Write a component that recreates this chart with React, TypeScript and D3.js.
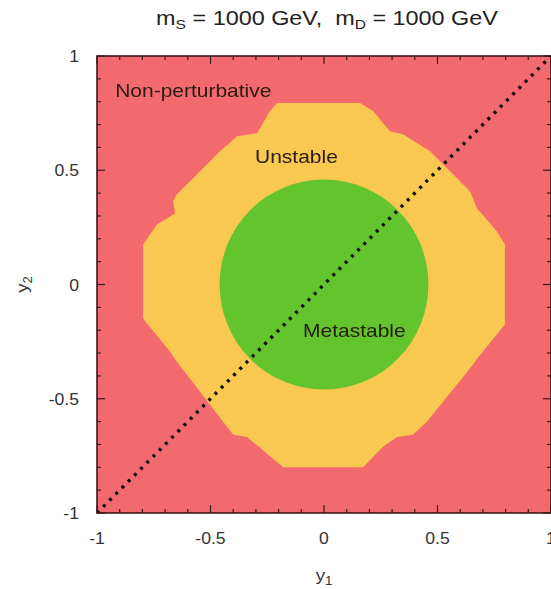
import React from "react";
import * as d3 from "d3";

// Stability-region boundaries in the (y1, y2) coupling plane
const unstableY1 = [
  -0.207, 0.159, 0.216, 0.291, 0.348, 0.467, 0.586, 0.643, 0.656, 0.674, 0.762, 0.797,
  0.797, 0.674, 0.656, 0.454, 0.392, 0.322, 0.26, 0.172,
  -0.18, -0.339, -0.4, -0.445, -0.648, -0.678, -0.797,
  -0.797, -0.736, -0.656, -0.665, -0.648, -0.559, -0.458, -0.383, -0.295, -0.269, -0.238,
];
const unstableY2 = [
  0.794, 0.794, 0.759, 0.671, 0.658, 0.583, 0.465, 0.408, 0.377, 0.333, 0.232, 0.175,
  -0.175, -0.325, -0.351, -0.6, -0.658, -0.667, -0.71, -0.8,
  -0.8, -0.667, -0.658, -0.6, -0.338, -0.294, -0.149,
  0.175, 0.263, 0.311, 0.364, 0.395, 0.482, 0.583, 0.649, 0.662, 0.706, 0.759,
];
const metastableCenter = [0, 0.0];
const metastableRadius = 0.46;

const diagonalY1 = [-1, 1];
const diagonalY2 = [-1, 1];

const majorTicks = [-1, -0.5, 0, 0.5, 1];
const tickLabels = ["-1", "-0.5", "0", "0.5", "1"];
const minorTicks = d3.range(-10, 11).map((i) => i / 10);

const regionLabels = [
  { text: "Non-perturbative", y1: -0.92, y2: 0.82 },
  { text: "Unstable", y1: -0.304, y2: 0.532 },
  { text: "Metastable", y1: -0.0925, y2: -0.23 },
];

const RED = "#f26b6e";
const YELLOW = "#f9c851";
const GREEN = "#63c42e";
const FONT = "'Liberation Sans', Arial, Helvetica, sans-serif";
// glyphs are drawn slightly wide
const SX = 1.2;

export default function App() {
  const W = 551;
  const H = 589;
  const x = d3.scaleLinear().domain([-1, 1]).range([97, 551]);
  const y = d3.scaleLinear().domain([-1, 1]).range([513, 56]);

  const poly = unstableY1.map((v, i) => [x(v), y(unstableY2[i])] as [number, number]);
  const polyPath = d3.line()(poly) + "Z";
  const rx = x(metastableRadius) - x(0);
  const ry = y(0) - y(metastableRadius);
  const diag = d3.line()(diagonalY1.map((v, i) => [x(v), y(diagonalY2[i])] as [number, number]));

  const x0 = x(-1), x1 = x(1), yTop = y(1), yBot = y(-1);
  const frameColor = "#3a1a1a";

  return (
    <svg
      width={W}
      height={H}
      style={{ position: "absolute", left: 0, top: 0, background: "#fff" }}
      fontFamily={FONT}
    >
      <defs>
        <clipPath id="plotClip">
          <rect x={x0} y={yTop} width={x1 - x0} height={yBot - yTop} />
        </clipPath>
        <filter id="soft" x="-5%" y="-5%" width="110%" height="110%">
          <feGaussianBlur stdDeviation="0.5" />
        </filter>
      </defs>

      {/* title */}
      <g transform={`translate(327, 25) scale(${SX}, 1)`}>
        <text x={0} y={0} textAnchor="middle" fontSize={19.5} fill="#222">
          <tspan>m</tspan>
          <tspan fontSize={13} dy={4}>S</tspan>
          <tspan dy={-4}>{" = 1000 GeV,\u00a0\u00a0m"}</tspan>
          <tspan fontSize={13} dy={4}>D</tspan>
          <tspan dy={-4}> = 1000 GeV</tspan>
        </text>
      </g>

      <g clipPath="url(#plotClip)" filter="url(#soft)">
        <rect x={x0} y={yTop} width={x1 - x0} height={yBot - yTop} fill={RED} />
        <path d={polyPath} fill={YELLOW} />
        <ellipse cx={x(metastableCenter[0])} cy={y(metastableCenter[1])} rx={rx} ry={ry} fill={GREEN} />
        <path
          d={diag || ""}
          stroke="#111"
          strokeWidth={3.4}
          strokeDasharray="3 5.8"
          fill="none"
        />
        {regionLabels.map((l) => (
          <g key={l.text} transform={`translate(${x(l.y1)}, ${y(l.y2)}) scale(${SX}, 1)`}>
            <text x={0} y={0} fontSize={17.5} fill="#2a1a12">
              {l.text}
            </text>
          </g>
        ))}
      </g>

      {/* ticks, pointing inward on all four sides */}
      <g stroke={frameColor} strokeWidth={1.2}>
        {minorTicks.map((t) => {
          const major = majorTicks.includes(t);
          const len = major ? 8 : 4;
          return (
            <g key={t}>
              <line x1={x(t)} x2={x(t)} y1={yBot} y2={yBot - len} />
              <line x1={x(t)} x2={x(t)} y1={yTop} y2={yTop + len} />
              <line x1={x0} x2={x0 + len} y1={y(t)} y2={y(t)} />
              <line x1={x1} x2={x1 - len} y1={y(t)} y2={y(t)} />
            </g>
          );
        })}
      </g>

      <rect
        x={x0}
        y={yTop}
        width={x1 - x0}
        height={yBot - yTop}
        fill="none"
        stroke={frameColor}
        strokeWidth={1.6}
      />

      {/* tick labels */}
      {majorTicks.map((t, i) => (
        <g key={"xl" + t} transform={`translate(${x(t)}, 544) scale(1.1, 1)`}>
          <text x={0} y={0} textAnchor="middle" fontSize={16} fill="#333">
            {tickLabels[i]}
          </text>
        </g>
      ))}
      {majorTicks.map((t, i) => (
        <g key={"yl" + t} transform={`translate(79, ${y(t) + 6}) scale(1.1, 1)`}>
          <text x={0} y={0} textAnchor="end" fontSize={16} fill="#333">
            {tickLabels[i]}
          </text>
        </g>
      ))}

      {/* axis titles */}
      <g transform={`translate(324, 581) scale(1.1, 1)`}>
        <text x={0} y={0} textAnchor="middle" fontSize={17} fill="#333">
          <tspan>y</tspan>
          <tspan fontSize={12} dy={4}>1</tspan>
        </text>
      </g>
      <text
        transform={`translate(28, ${y(0)}) rotate(-90) scale(1.1, 1)`}
        textAnchor="middle"
        fontSize={17}
        fill="#333"
      >
        <tspan>y</tspan>
        <tspan fontSize={12} dy={4}>2</tspan>
      </text>
    </svg>
  );
}
